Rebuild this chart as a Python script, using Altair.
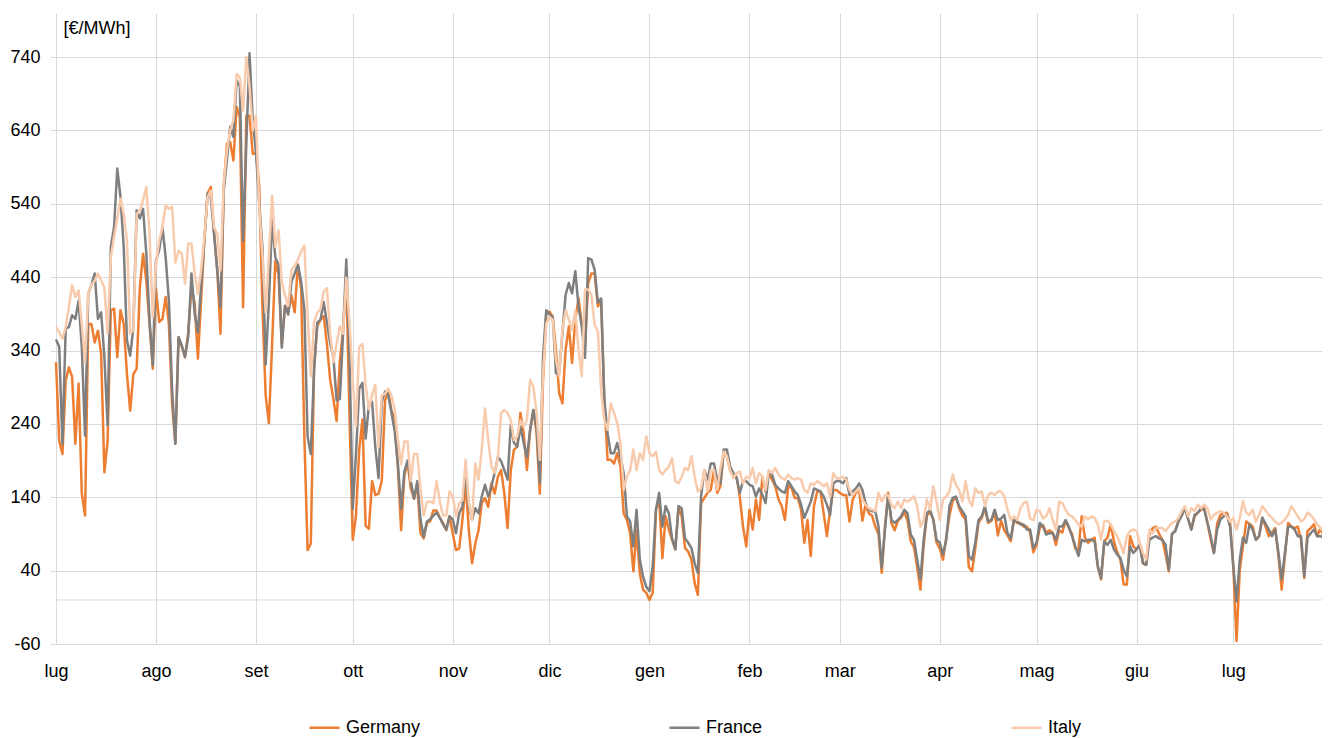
import altair as alt
import pandas as pd

# ---- daily prices [€/MWh], one list per month (Jul 2022 .. Jul 2023) ----
months = ["2022-07", "2022-08", "2022-09", "2022-10", "2022-11", "2022-12",
          "2023-01", "2023-02", "2023-03", "2023-04", "2023-05", "2023-06", "2023-07"]

de_2022_07 = [324, 217, 199, 299, 317, 304, 213, 295, 145, 115, 376, 376, 351, 367, 335, 174, 217, 395, 397, 331, 395, 376, 308, 258, 308, 315, 426, 472, 435, 376, 315]
de_2022_08 = [424, 379, 383, 413, 376, 267, 213, 358, 345, 331, 365, 426, 404, 329, 410, 490, 554, 563, 501, 449, 363, 563, 622, 624, 599, 672, 658, 399, 660, 660, 608]
de_2022_09 = [610, 565, 400, 279, 241, 349, 462, 443, 349, 401, 392, 415, 392, 457, 424, 223, 68, 77, 317, 373, 382, 387, 349, 300, 274, 244, 326, 368, 440, 250]
de_2022_10 = [82, 115, 204, 246, 101, 97, 162, 143, 145, 162, 272, 284, 258, 246, 180, 95, 170, 187, 152, 138, 157, 91, 84, 105, 107, 122, 122, 112, 105, 95, 114]
de_2022_11 = [91, 68, 70, 109, 159, 95, 50, 77, 95, 132, 139, 127, 159, 145, 168, 177, 145, 98, 177, 205, 209, 255, 227, 177, 232, 259, 227, 145, 300, 391]
de_2022_12 = [393, 386, 341, 282, 268, 341, 373, 323, 382, 411, 377, 345, 432, 445, 445, 400, 409, 273, 191, 191, 186, 200, 182, 118, 109, 91, 39, 95, 36, 14, 10]
de_2023_01 = [0, 10, 123, 137, 57, 114, 96, 82, 69, 125, 114, 71, 66, 55, 23, 7, 132, 139, 146, 150, 177, 146, 155, 202, 196, 177, 168, 168, 141, 100, 73]
de_2023_02 = [123, 96, 137, 109, 168, 148, 173, 164, 155, 137, 128, 109, 155, 153, 139, 139, 123, 78, 109, 60, 128, 148, 148, 118, 87, 123, 150, 150]
de_2023_03 = [146, 143, 143, 107, 137, 146, 150, 108, 130, 118, 115, 100, 90, 37, 100, 146, 105, 95, 108, 112, 120, 108, 80, 72, 45, 14, 75, 115, 120, 110, 78]
de_2023_04 = [70, 55, 85, 115, 135, 140, 125, 115, 110, 45, 39, 70, 105, 112, 125, 105, 108, 120, 88, 108, 95, 88, 80, 110, 105, 105, 100, 100, 92, 65]
de_2023_05 = [75, 98, 102, 92, 95, 92, 75, 95, 92, 108, 98, 90, 70, 69, 114, 85, 78, 82, 85, 45, 28, 80, 85, 103, 80, 65, 55, 21, 21, 87, 73]
de_2023_06 = [69, 75, 50, 48, 90, 98, 100, 90, 82, 62, 39, 90, 94, 107, 115, 125, 110, 96, 114, 119, 123, 125, 105, 82, 64, 104, 116, 118, 119, 105]
de_2023_07 = [46, -56, 41, 73, 107, 104, 100, 82, 87, 112, 100, 87, 92, 98, 60, 14, 60, 105, 100, 98, 100, 82, 30, 94, 98, 103, 87, 98, 87, 90, 30]

fr_2022_07 = [355, 345, 213, 370, 372, 388, 383, 408, 345, 224, 417, 430, 445, 383, 392, 331, 238, 481, 508, 588, 549, 481, 354, 333, 372, 531, 520, 533, 472, 381, 320]
fr_2022_08 = [463, 477, 508, 467, 408, 286, 213, 358, 347, 331, 359, 445, 390, 365, 430, 490, 554, 549, 499, 449, 399, 558, 599, 645, 631, 708, 700, 490, 620, 745, 654]
fr_2022_09 = [610, 540, 481, 321, 406, 518, 467, 457, 344, 401, 389, 434, 445, 457, 434, 396, 223, 199, 312, 378, 382, 406, 378, 350, 331, 272, 274, 363, 464, 331]
fr_2022_10 = [124, 199, 288, 296, 220, 265, 270, 208, 166, 270, 284, 279, 256, 230, 185, 124, 175, 190, 162, 138, 162, 110, 86, 107, 110, 115, 119, 112, 103, 96, 114]
fr_2022_11 = [110, 91, 118, 127, 177, 127, 109, 125, 118, 141, 157, 141, 155, 173, 195, 189, 177, 164, 239, 214, 209, 236, 214, 195, 232, 259, 236, 160, 332, 395]
fr_2022_12 = [389, 386, 309, 309, 364, 416, 432, 418, 448, 400, 373, 330, 466, 464, 450, 405, 411, 273, 227, 200, 200, 214, 195, 173, 114, 107, 73, 123, 55, 32, 18]
fr_2023_01 = [12, 46, 123, 146, 100, 128, 118, 84, 69, 128, 125, 84, 78, 71, 50, 37, 141, 177, 164, 186, 186, 164, 159, 205, 205, 182, 173, 166, 146, 162, 162]
fr_2023_02 = [157, 155, 141, 152, 143, 132, 175, 171, 157, 152, 148, 146, 162, 155, 148, 143, 130, 112, 123, 134, 152, 150, 148, 141, 130, 116, 159, 162]
fr_2023_03 = [162, 159, 166, 143, 148, 152, 159, 150, 132, 123, 121, 121, 100, 44, 96, 143, 109, 105, 109, 114, 123, 118, 89, 82, 55, 28, 82, 118, 123, 109, 82]
fr_2023_04 = [78, 62, 82, 128, 139, 141, 128, 121, 114, 60, 55, 78, 109, 114, 128, 107, 109, 123, 109, 111, 116, 91, 84, 109, 107, 103, 103, 96, 96, 71]
fr_2023_05 = [78, 105, 100, 89, 91, 91, 82, 100, 100, 109, 100, 87, 73, 60, 82, 80, 82, 82, 80, 46, 30, 80, 75, 82, 69, 62, 57, 41, 32, 73, 64]
fr_2023_06 = [69, 75, 50, 48, 82, 85, 87, 84, 82, 75, 41, 90, 94, 107, 115, 125, 110, 96, 116, 119, 125, 123, 105, 87, 64, 96, 110, 114, 116, 100]
fr_2023_07 = [46, -2, 55, 85, 78, 103, 96, 82, 87, 112, 104, 96, 87, 96, 64, 28, 64, 100, 100, 96, 87, 87, 32, 85, 91, 96, 87, 87, 85, 85, 40]

it_2022_07 = [372, 365, 356, 372, 400, 429, 413, 422, 376, 324, 417, 430, 435, 445, 435, 426, 363, 467, 495, 520, 547, 526, 490, 363, 368, 526, 531, 545, 563, 499, 385]
it_2022_08 = [458, 490, 508, 538, 533, 536, 460, 476, 472, 431, 486, 486, 445, 417, 450, 495, 549, 558, 508, 499, 449, 567, 613, 640, 654, 717, 712, 667, 740, 700, 640]
it_2022_09 = [660, 537, 470, 392, 470, 551, 481, 504, 434, 415, 401, 450, 455, 464, 475, 483, 387, 305, 378, 392, 396, 420, 425, 363, 324, 349, 373, 363, 439, 378]
it_2022_10 = [300, 236, 345, 349, 293, 260, 280, 293, 208, 279, 281, 288, 279, 260, 218, 185, 216, 216, 162, 199, 199, 152, 115, 134, 134, 132, 162, 134, 115, 115, 148]
it_2022_11 = [141, 114, 132, 136, 191, 132, 109, 186, 164, 205, 261, 218, 182, 173, 195, 255, 259, 255, 245, 218, 223, 245, 236, 245, 300, 291, 255, 191, 309, 377]
it_2022_12 = [386, 382, 327, 305, 368, 395, 382, 368, 395, 341, 305, 423, 423, 416, 375, 366, 286, 245, 232, 268, 255, 241, 214, 150, 168, 177, 205, 177, 200, 191, 223]
it_2023_01 = [200, 196, 202, 177, 171, 177, 182, 193, 162, 159, 168, 180, 177, 196, 168, 148, 152, 177, 148, 177, 177, 150, 180, 202, 196, 177, 166, 173, 175, 159, 168]
it_2023_02 = [166, 180, 159, 173, 168, 150, 177, 173, 180, 171, 166, 164, 171, 166, 164, 166, 164, 150, 146, 159, 157, 162, 159, 155, 159, 141, 173, 166]
it_2023_03 = [166, 168, 164, 150, 143, 148, 152, 137, 130, 125, 123, 121, 146, 134, 143, 143, 130, 125, 134, 125, 137, 134, 137, 141, 128, 100, 109, 137, 123, 155, 134]
it_2023_04 = [109, 137, 141, 148, 171, 157, 150, 134, 162, 137, 128, 152, 146, 148, 128, 143, 146, 143, 148, 148, 141, 123, 109, 114, 109, 125, 132, 134, 111, 109]
it_2023_05 = [123, 121, 111, 114, 125, 109, 96, 134, 132, 123, 116, 114, 109, 103, 100, 114, 110, 114, 112, 103, 82, 107, 108, 103, 94, 87, 76, 64, 87, 94, 96]
it_2023_06 = [94, 78, 64, 55, 96, 91, 98, 98, 98, 94, 100, 105, 107, 112, 121, 128, 114, 125, 121, 130, 125, 130, 125, 110, 116, 119, 121, 119, 114, 107]
it_2023_07 = [112, 96, 112, 135, 119, 116, 123, 107, 116, 128, 122, 116, 112, 107, 103, 105, 110, 116, 128, 121, 114, 107, 110, 119, 116, 110, 103, 98, 94, 82, 75]

series = {
    "Germany": [de_2022_07, de_2022_08, de_2022_09, de_2022_10, de_2022_11, de_2022_12,
                de_2023_01, de_2023_02, de_2023_03, de_2023_04, de_2023_05, de_2023_06, de_2023_07],
    "France": [fr_2022_07, fr_2022_08, fr_2022_09, fr_2022_10, fr_2022_11, fr_2022_12,
               fr_2023_01, fr_2023_02, fr_2023_03, fr_2023_04, fr_2023_05, fr_2023_06, fr_2023_07],
    "Italy": [it_2022_07, it_2022_08, it_2022_09, it_2022_10, it_2022_11, it_2022_12,
              it_2023_01, it_2023_02, it_2023_03, it_2023_04, it_2023_05, it_2023_06, it_2023_07],
}
countries = ["Germany", "France", "Italy"]
colors = ["#ED7D31", "#7F7F7F", "#F8CBAD"]
month_labels = ["gen", "feb", "mar", "apr", "mag", "giu", "lug", "ago", "set", "ott", "nov", "dic"]
y_ticks = [-60, 40, 140, 240, 340, 440, 540, 640, 740]

rows = []
for country in countries:
    for m, vals in zip(months, series[country]):
        start = pd.Timestamp(m + "-01")
        n_days = start.days_in_month
        assert len(vals) == n_days, (country, m, len(vals))
        for i, v in enumerate(vals):
            rows.append({"date": (start + pd.Timedelta(days=i)).strftime("%Y-%m-%d"),
                         "country": country, "price": v})
df = pd.DataFrame(rows)

FONT = "Liberation Sans"
GRID = "#D9D9D9"

month_starts = [alt.DateTime(year=int(m[:4]), month=int(m[5:]), date=1, utc=True) for m in months]

x_enc = alt.X(
    "date:T",
    scale=alt.Scale(type="utc", nice=False,
                    domain=[alt.DateTime(year=2022, month=7, date=1, utc=True),
                            alt.DateTime(year=2023, month=7, date=28, hours=12, utc=True)]),
    axis=alt.Axis(values=month_starts, title=None, domain=False, ticks=False, tickSize=0,
                  labelExpr="%s[utcmonth(datum.value)]" % str(month_labels),
                  labelFlush=False, labelPadding=18, labelFontSize=18, labelFont=FONT,
                  labelColor="#000000", grid=True, gridColor=GRID, gridWidth=1),
)
y_axis = alt.Axis(values=y_ticks, title="[€/MWh]", titleAngle=0, titleX=7, titleY=15,
                  titleAlign="left", titleBaseline="middle", titleFontSize=18,
                  titleFontWeight="normal", titleFont=FONT, titleColor="#000000",
                  domain=False, ticks=True, tickSize=6, tickColor=GRID, tickWidth=1,
                  labelExpr="datum.value < 0 ? '-' + abs(datum.value) : '' + datum.value",
                  labelPadding=10, labelFontSize=18, labelFont=FONT, labelColor="#000000",
                  grid=True, gridColor=GRID, gridWidth=1)
y_scale = alt.Scale(domain=[-60, 800], nice=False, zero=False)
y_enc = alt.Y("price:Q", scale=y_scale, axis=y_axis)

color_enc = alt.Color(
    "country:N",
    scale=alt.Scale(domain=countries, range=colors),
    sort=countries,
    legend=alt.Legend(title=None, orient="none", direction="horizontal",
                      legendX=252, legendY=698, symbolType="stroke", symbolSize=900,
                      symbolStrokeWidth=2.5, labelFontSize=18, labelFont=FONT,
                      labelColor="#000000", labelOffset=5, columnPadding=243, padding=0),
)

# extra horizontal gridline at zero
zero_rule = alt.Chart(pd.DataFrame({"price": [0]})).mark_rule(color=GRID, strokeWidth=1).encode(
    y=y_enc
)

layers = [zero_rule]
for c in countries:
    layers.append(
        alt.Chart(df).transform_filter(alt.datum.country == c)
        .mark_line(strokeWidth=2.5, strokeJoin="round")
        .encode(x=x_enc, y=y_enc, color=color_enc)
    )

chart = alt.layer(*layers).properties(
    width=1266, height=631,
    padding={"left": 48, "right": 0, "top": 5, "bottom": 94},
    autosize=alt.AutoSizeParams(type="none"),
    background="#FFFFFF",
).configure_view(stroke=None)

chart.save("out.html", embed_options={"renderer": "svg", "actions": False})
